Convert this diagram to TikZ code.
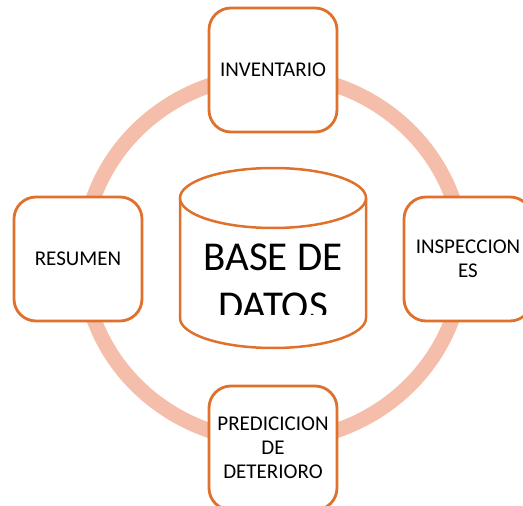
\documentclass[tikz,border=0pt]{standalone}
\usepackage{fontspec}
\setmainfont{Carlito}
\usepackage{tikz}
\usetikzlibrary{shapes}
\definecolor{naranja}{RGB}{224,113,45}
\definecolor{salmon}{RGB}{244,190,170}

\begin{document}
\begin{tikzpicture}[x=1pt, y=-1pt,
    etapa/.style={draw=naranja, line width=2.8pt, fill=white, rounded corners=22pt,
        minimum width=128pt, minimum height=124pt, align=center,
        font=\fontsize{21}{24}\selectfont},
    anillo/.style={draw=salmon, line width=15pt}]
        \clip (0,0) rectangle (523,506);
        \draw [anillo] (273,258) ellipse [x radius=190, y radius=183];
        \node [etapa] (inventario) at (273,70) {INVENTARIO};
        \node [etapa] (resumen) at (78,259) {RESUMEN};
        \node [etapa] (inspecciones) at (468,259) {INSPECCION\\ES};
        \node [etapa] (prediccion) at (273,448) {PREDICICION\\DE\\DETERIORO};
        % cilindro
        \draw [naranja, line width=2.5pt, fill=white] (180,198) -- (180,318)
            arc [start angle=180, end angle=0, x radius=93, y radius=30] -- (366,198);
        \draw [naranja, line width=2.5pt, fill=white] (273,198) ellipse [x radius=93, y radius=30];
        \begin{scope}
            \clip (180,228) rectangle (366,314);
            \node [anchor=north, inner sep=0, align=center, font=\fontsize{41}{49}\selectfont] (datos) at (273,244) {BASE DE\\DATOS};
        \end{scope}
\end{tikzpicture}
\end{document}
